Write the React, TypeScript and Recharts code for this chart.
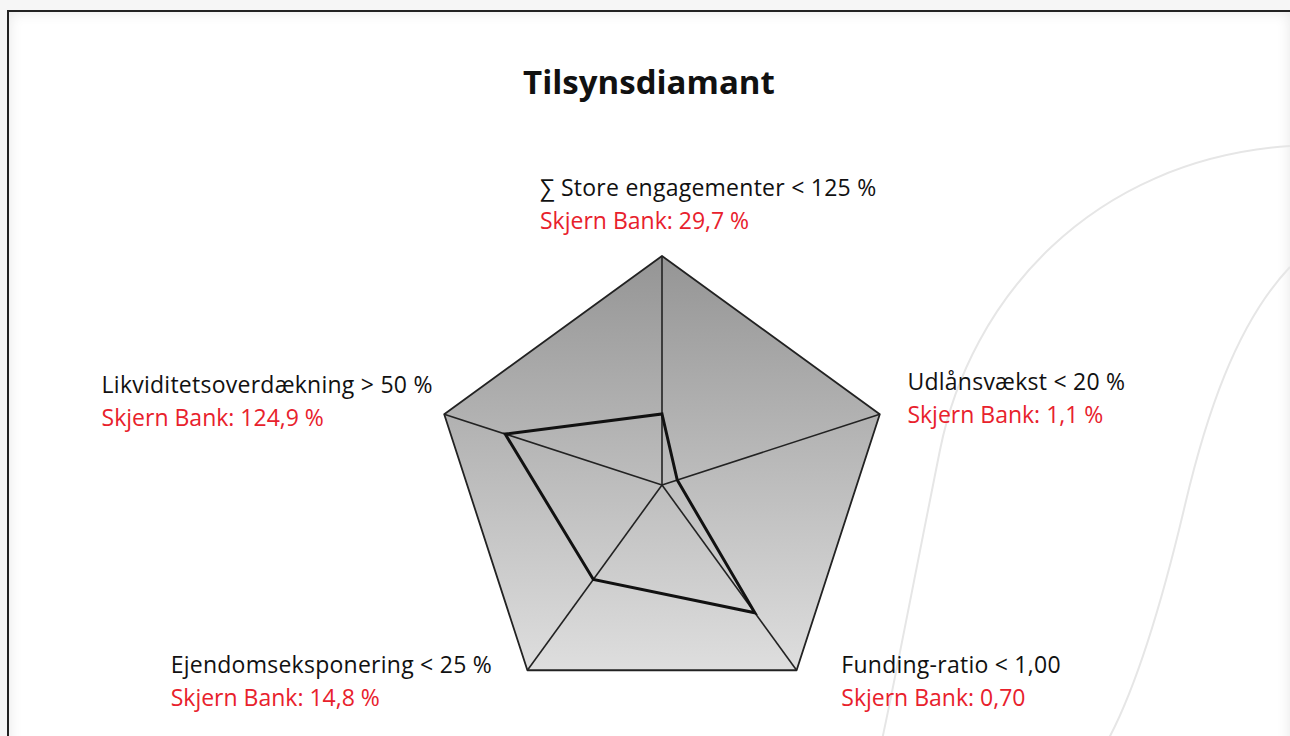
import { PolarAngleAxis, PolarRadiusAxis, Radar, RadarChart } from "recharts";

const criteria = [
  "\u2211 Store engagementer < 125 %",
  "Udl\u00e5nsv\u00e6kst < 20 %",
  "Funding-ratio < 1,00",
  "Ejendomseksponering < 25 %",
  "Likviditetsoverd\u00e6kning > 50 %",
];
const bankValues = [
  "Skjern Bank: 29,7 %",
  "Skjern Bank: 1,1 %",
  "Skjern Bank: 0,70",
  "Skjern Bank: 14,8 %",
  "Skjern Bank: 124,9 %",
];
// share of the limit
const bankShare = [0.31, 0.07, 0.69, 0.51, 0.72];
const limitShare = [1, 1, 1, 1, 1];

const chartData = criteria.map((name, i) => ({
  name,
  bank: bankShare[i],
  limit: limitShare[i],
  label: bankValues[i],
}));

// label placement relative to each angle-axis tick
const labelOffsets = [
  { dx: -122, dy: -52 },
  { dx: 20, dy: -22 },
  { dx: 40, dy: -4 },
  { dx: -352, dy: -4 },
  { dx: -335, dy: -19 },
];

const FONT = "'Open Sans', 'Noto Sans', sans-serif";
const RED = "#e8212c";

function AxisLabel(props: any) {
  const { x, y, payload, index } = props;
  const off = labelOffsets[index] ?? { dx: 0, dy: 0 };
  return (
    <g>
      <text
        x={x + off.dx}
        y={y + off.dy}
        fill="#111"
        fontSize={23}
        letterSpacing={0.25}
        fontFamily={FONT}
      >
        {payload.value}
      </text>
      <text x={x + off.dx} y={y + off.dy + 33} fill={RED} fontSize={23} fontFamily={FONT}>
        {bankValues[index]}
      </text>
    </g>
  );
}

function DiamondShape(props: any) {
  const points: Array<{ x: number; y: number; cx: number; cy: number }> = props.points ?? [];
  if (!points.length) return null;
  return (
    <g>
      <polygon
        points={points.map((p) => `${p.x},${p.y}`).join(" ")}
        fill="url(#diamondFill)"
        stroke="#222"
        strokeWidth={1.8}
        strokeLinejoin="round"
      />
      {points.map((p, i) => (
        <line key={i} x1={p.cx} y1={p.cy} x2={p.x} y2={p.y} stroke="#222" strokeWidth={1.6} />
      ))}
    </g>
  );
}

export default function App() {
  return (
    <div
      style={{
        position: "fixed",
        left: 0,
        top: 0,
        width: 1290,
        height: 736,
        background: "#f6f6f6",
        overflow: "hidden",
      }}
    >
      <div
        style={{
          position: "absolute",
          left: 7,
          top: 10,
          width: 1281,
          height: 760,
          background: "#fff",
          borderTop: "2px solid #222",
          borderLeft: "2px solid #222",
          borderRight: "1px solid #999",
          boxShadow: "inset 0 0 14px rgba(0,0,0,0.10)",
        }}
      />
      <svg width={1290} height={736} style={{ position: "absolute", left: 0, top: 0 }}>
        <path
          d="M1290,146 C1090,160 970,300 940,450 S895,680 882,740"
          fill="none"
          stroke="#e6e6e6"
          strokeWidth={2}
        />
        <path
          d="M1290,267 C1235,325 1205,420 1185,505 S1140,680 1108,740"
          fill="none"
          stroke="#e6e6e6"
          strokeWidth={2}
        />
      </svg>
      <div
        style={{
          position: "absolute",
          left: 8,
          width: 1282,
          top: 59,
          textAlign: "center",
          fontFamily: FONT,
          fontWeight: 700,
          fontSize: 33,
          color: "#111",
        }}
      >
        Tilsynsdiamant
      </div>
      <div style={{ position: "absolute", left: 0, top: 0 }}>
        <RadarChart
          width={1290}
          height={736}
          data={chartData}
          cx={662}
          cy={485}
          outerRadius={229}
          margin={{ top: 0, right: 0, bottom: 0, left: 0 }}
        >
          <defs>
            <linearGradient id="diamondFill" x1="0" y1="0" x2="0" y2="1">
              <stop offset="0%" stopColor="#959595" />
              <stop offset="100%" stopColor="#dedede" />
            </linearGradient>
          </defs>
          <PolarRadiusAxis domain={[0, 1]} tick={false} axisLine={false} />
          <PolarAngleAxis dataKey="name" tick={<AxisLabel />} tickLine={false} axisLine={false} />
          <Radar dataKey="limit" shape={<DiamondShape />} isAnimationActive={false} />
          <Radar
            dataKey="bank"
            fill="none"
            fillOpacity={0}
            stroke="#111"
            strokeWidth={3}
            dot={false}
            isAnimationActive={false}
          />
        </RadarChart>
      </div>
    </div>
  );
}
